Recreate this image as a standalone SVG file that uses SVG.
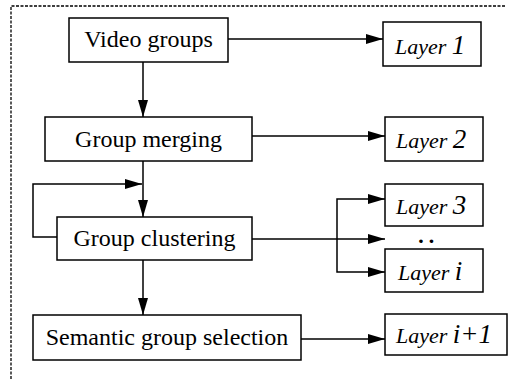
<svg xmlns="http://www.w3.org/2000/svg" width="508" height="379" viewBox="0 0 508 379">
  <style>
    .box { fill: #fff; stroke: #000; stroke-width: 1.5; }
    .wire { fill: none; stroke: #000; stroke-width: 1.5; }
    .frame { fill: none; stroke: #000; stroke-width: 1.3; stroke-dasharray: 3 1.5; }
    .serif { font-family: "Liberation Serif", "Times New Roman", Times, "Nimbus Roman", "Nimbus Roman No9 L", "Noto Serif", "DejaVu Serif", FreeSerif, serif; }
  </style>
  <defs>
    <marker id="arrow" markerUnits="userSpaceOnUse" markerWidth="17" markerHeight="10" refX="17" refY="5" orient="auto">
      <path d="M0,0 L17,5 L0,10 z" fill="#000"/>
    </marker>
  </defs>

  <!-- dashed frame on the left and top -->
  <path class="frame" d="M11,379 V6 H505"/>

  <!-- connectors -->
  <g id="connectors">
    <path class="wire" d="M228,39 H383" marker-end="url(#arrow)"/>
    <path class="wire" d="M143,62 V117" marker-end="url(#arrow)"/>
    <path class="wire" d="M252,136 H385" marker-end="url(#arrow)"/>
    <path class="wire" d="M143,161 V217" marker-end="url(#arrow)"/>
    <path class="wire" d="M57,237 H33 V184 H142" marker-end="url(#arrow)"/>
    <path class="wire" d="M143,260 V315" marker-end="url(#arrow)"/>
    <path class="wire" d="M252,239 H385" marker-end="url(#arrow)"/>
    <path class="wire" d="M337,239 V199 H385" marker-end="url(#arrow)"/>
    <path class="wire" d="M337,239 V272 H385" marker-end="url(#arrow)"/>
    <path class="wire" d="M301,339 H385" marker-end="url(#arrow)"/>
  </g>

  <!-- process nodes -->
  <g class="serif" font-size="24" text-anchor="middle" fill="#000">
    <g id="video-groups">
      <rect class="box" x="69" y="18" width="159" height="44"/>
      <text x="148.5" y="47">Video groups</text>
    </g>
    <g id="group-merging">
      <rect class="box" x="45" y="117" width="207" height="44"/>
      <text x="148.5" y="147">Group merging</text>
    </g>
    <g id="group-clustering">
      <rect class="box" x="57" y="217" width="195" height="43"/>
      <text x="154.5" y="246">Group clustering</text>
    </g>
    <g id="semantic-selection">
      <rect class="box" x="33" y="315" width="268" height="45"/>
      <text x="167" y="345">Semantic group selection</text>
    </g>
  </g>

  <!-- layer nodes -->
  <g class="serif" font-style="italic" font-size="22" fill="#000">
    <g id="layer-1">
      <rect class="box" x="383" y="22" width="98" height="44"/>
      <text x="395" y="54">Layer <tspan font-size="27">1</tspan></text>
    </g>
    <g id="layer-2">
      <rect class="box" x="385" y="117" width="98" height="44"/>
      <text x="396" y="148">Layer <tspan font-size="27">2</tspan></text>
    </g>
    <g id="layer-3">
      <rect class="box" x="385" y="184" width="98" height="42"/>
      <text x="396" y="214">Layer <tspan font-size="27">3</tspan></text>
    </g>
    <g id="layer-dots">
      <text x="419" y="243" font-weight="bold" letter-spacing="5">..</text>
    </g>
    <g id="layer-i">
      <rect class="box" x="385" y="249" width="98" height="43"/>
      <text x="398" y="280">Layer <tspan font-size="27">i</tspan></text>
    </g>
    <g id="layer-i-plus-1">
      <rect class="box" x="385" y="314" width="122" height="41"/>
      <text x="396" y="343">Layer <tspan font-size="27">i+1</tspan></text>
    </g>
  </g>
</svg>
